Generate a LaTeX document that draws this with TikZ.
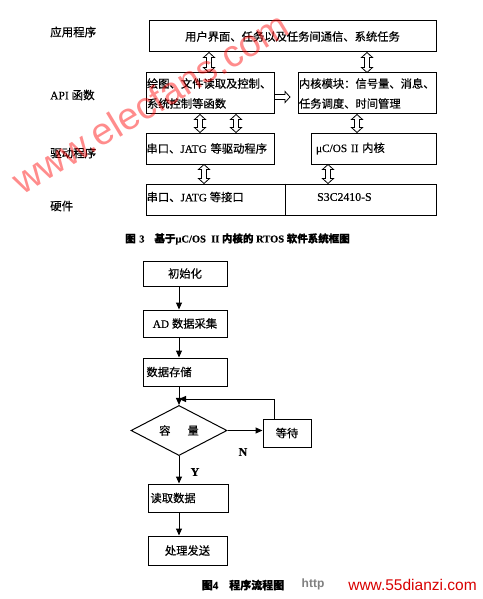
\documentclass[tikz,border=0pt]{standalone}
\usepackage{fontspec}
\setmainfont{Liberation Serif}[FakeBold=0.3]
\newfontfamily\cjk{Noto Sans CJK SC}[FakeBold=0.5]
\newfontfamily\wsans{Liberation Sans}
\usetikzlibrary{calc,shapes.geometric,arrows.meta}
\tikzset{
  box/.style={draw, line width=1pt, inner sep=0pt, font=\fontsize{11.3}{20}\selectfont},
  lbl/.style={anchor=west, inner sep=0pt, font=\fontsize{11.5}{14}\selectfont\cjk},
  txt/.style={inner sep=0pt, font=\fontsize{11.3}{14}\selectfont},
  flow/.style={line width=1pt, -{Triangle[length=7pt,width=6pt]}},
  hollow/.style={line width=0.8pt, to path={
    ($(\tikztostart)!5pt!(\tikztotarget)$) coordinate (h1)
    ($(\tikztotarget)!5pt!(\tikztostart)$) coordinate (h2)
    (\tikztostart) -- ($(h1)!5.5pt!90:(\tikztotarget)$) -- ($(h1)!2.5pt!90:(\tikztotarget)$)
    -- ($(h2)!2.5pt!-90:(\tikztostart)$) -- ($(h2)!5.5pt!-90:(\tikztostart)$) -- (\tikztotarget)
    -- ($(h2)!5.5pt!90:(\tikztostart)$) -- ($(h2)!2.5pt!90:(\tikztostart)$)
    -- ($(h1)!2.5pt!-90:(\tikztotarget)$) -- ($(h1)!5.5pt!-90:(\tikztotarget)$) -- cycle}},
  hollowone/.style={line width=0.8pt, to path={
    ($(\tikztotarget)!5pt!(\tikztostart)$) coordinate (h2)
    ($(\tikztostart)!2.5pt!90:(\tikztotarget)$)
    -- ($(h2)!2.5pt!-90:(\tikztostart)$) -- ($(h2)!5.5pt!-90:(\tikztostart)$) -- (\tikztotarget)
    -- ($(h2)!5.5pt!90:(\tikztostart)$) -- ($(h2)!2.5pt!90:(\tikztostart)$)
    -- ($(\tikztostart)!2.5pt!-90:(\tikztotarget)$)}},
}
\begin{document}
\begin{tikzpicture}[x=1pt,y=-1pt]
\useasboundingbox[fill=white] (0,0) rectangle (482,599);

% ---------- Figure 3 ----------
\node[lbl] (l1) at (50,32) {应用程序};
\node[lbl] (l2) at (50,95) {\rmfamily API {\cjk 函数}};
\node[lbl] (l3) at (50,153) {驱动程序};
\node[lbl] (l4) at (50,206) {硬件};

\node[box, minimum width=287pt, minimum height=31pt] (app) at (292.5,36.5) {\cjk 用户界面、任务以及任务间通信、系统任务};
\node[box, minimum width=128pt, minimum height=41pt, text width=126pt, align=left] (api1) at (210,93.5)
  {\cjk 绘图、文件读取及控制、\\系统控制等函数};
\node[box, minimum width=138pt, minimum height=41pt, text width=136pt, align=left] (api2) at (367,93.5)
  {\cjk 内核模块：信号量、消息、\\任务调度、时间管理};
\node[box, minimum width=128pt, minimum height=31pt, text width=127pt, align=left] (drv1) at (210,148.5)
  {{\cjk 串口、}JATG {\cjk 等驱动程序}};
\node[box, minimum width=125pt, minimum height=31pt, text width=115pt, align=left] (drv2) at (373.5,148.5)
  {μC/OS II {\cjk 内核}};
\node[box, minimum width=290pt, minimum height=31pt] (hw) at (291,199.5) {};
\coordinate (div) at (285,0);
\draw[line width=1pt] (hw.north -| div) -- (hw.south -| div);
\node[txt, anchor=west] (hw1) at (146.5,197) {{\cjk 串口、}JATG {\cjk 等接口}};
\node[txt, anchor=west, font=\fontsize{11.8}{14}\selectfont] (hw2) at (317,197) {S3C2410-S};

\coordinate (c1) at (209,0);
\coordinate (c2) at (367,0);
\coordinate (c3) at (200,0);
\coordinate (c4) at (236,0);
\coordinate (c5) at (357,0);
\coordinate (c6) at (204,0);
\coordinate (c7) at (328,0);
\draw[hollow] (app.south -| c1) to (api1.north -| c1);
\draw[hollow] (app.south -| c2) to (api2.north -| c2);
\draw[hollow] (api1.south -| c3) to (drv1.north -| c3);
\draw[hollow] (api1.south -| c4) to (drv1.north -| c4);
\draw[hollow] (api2.south -| c5) to (drv2.north -| c5);
\draw[hollow] (drv1.south -| c6) to (hw.north -| c6);
\draw[hollow] (drv2.south -| c7) to (hw.north -| c7);
\coordinate (hs) at (274,97);
\coordinate (he) at (290,97);
\draw[hollowone] (hs) to (he);

\node[inner sep=0pt, font=\fontsize{10.5}{12}\selectfont\bfseries] (cap3) at (237.5,239)
  {{\cjk 图}\,\,3\hspace{10pt}{\cjk 基于}μC/OS\ \ II {\cjk 内核的} RTOS {\cjk 软件系统框图}};

% ---------- Figure 4 ----------
\coordinate (col) at (179,0);
\node[box, minimum width=84pt, minimum height=25pt] (b1) at (185,273.5) {\cjk 初始化};
\node[box, minimum width=84pt, minimum height=27pt] (b2) at (185,323.5) {{AD} {\cjk 数据采集}};
\node[box, minimum width=84pt, minimum height=28pt, text width=77pt, align=left] (b3) at (185,372) {\cjk 数据存储};
\node[draw, diamond, line width=1pt, minimum width=96pt, minimum height=41pt, inner sep=0pt,
      font=\fontsize{11.3}{14}\selectfont\cjk] (dec) at (179,430.5) {容\hspace{17pt}量};
\node[box, minimum width=48pt, minimum height=28pt] (wt) at (287,433) {\cjk 等待};
\node[box, minimum width=80pt, minimum height=28pt, text width=75pt, align=left] (b4) at (188,498) {\cjk 读取数据};
\node[box, minimum width=79pt, minimum height=29pt] (b5) at (187.5,550.5) {\cjk 处理发送};

\draw[flow] (b1.south -| col) -- (b2.north -| col);
\draw[flow] (b2.south -| col) -- (b3.north -| col);
\draw[flow] (b3.south -| col) -- (dec.north);
\draw[flow] (dec.east) -- (dec.east -| wt.west);
\draw[flow] (dec.south) -- (b4.north -| col);
\draw[flow] (b4.south -| col) -- (b5.north -| col);
\coordinate (fbx) at (274,0);
\coordinate (fby) at (0,399);
\coordinate (fb) at (col |- fby);
\draw[flow] (wt.north -| fbx) |- (fb);

\node[txt, font=\fontsize{12}{14}\selectfont\bfseries] (yl) at (195,472) {Y};
\node[txt, font=\fontsize{12}{14}\selectfont\bfseries] (nl) at (243,452) {N};

\node[inner sep=0pt, font=\fontsize{11}{12}\selectfont\bfseries] (cap4) at (243,585)
  {{\cjk 图}4\quad{\cjk 程序流程图}};
\node[inner sep=0pt, text=gray, font=\wsans\bfseries\fontsize{12}{14}\selectfont] (http) at (313,584) {http};
\node[inner sep=0pt, text=red!85!black, font=\wsans\fontsize{15.5}{17}\selectfont] (site) at (412.5,585) {www.55dianzi.com};

% watermark
\node[rotate=31, inner sep=0pt, text=red, opacity=0.45, font=\wsans\fontsize{38}{40}\selectfont] (wm) at (150,103) {www.elecfans.com};
\end{tikzpicture}
\end{document}
